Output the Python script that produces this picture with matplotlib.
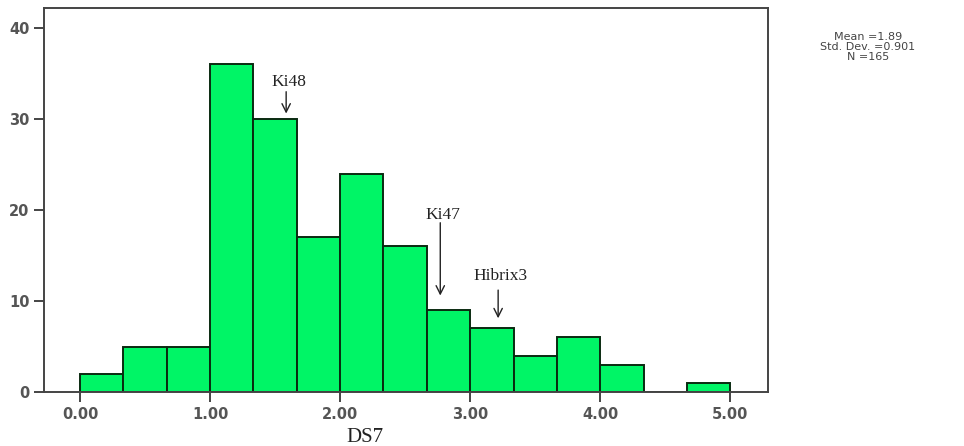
import numpy as np
import matplotlib.pyplot as plt

# DS7 histogram, bin width 1/3 from 0 to 5
bin_edges = np.linspace(0, 5, 16)
counts = [2, 5, 5, 36, 30, 17, 24, 16, 9, 7, 4, 6, 3, 0, 1]
xticks = [0, 1, 2, 3, 4, 5]
xtick_labels = ['0.00', '1.00', '2.00', '3.00', '4.00', '5.00']
yticks = [0, 10, 20, 30, 40]
stats = ['Mean =1.89', 'Std. Dev. =0.901', 'N =165']

# labelled cases: (name, x, arrow tip y, arrow start y, text baseline y)
marks = [('Ki48', 1.585, 30.6, 33.0, 33.6),
         ('Ki47', 2.77, 10.6, 18.6, 19.0),
         ('Hibrix3', 3.215, 8.1, 11.2, 12.3)]

fig = plt.figure(figsize=(9.64, 4.46), dpi=100)
ax = fig.add_axes([44/964, 54/446, 724/964, 384/446])

ax.bar(bin_edges[:-1], counts, width=np.diff(bin_edges), align='edge',
       color='#00f566', edgecolor='#0a2a10', linewidth=1.4)

ax.set_xlim(-0.277, 5.29)
ax.set_ylim(0, 42.2)
ax.set_xticks(xticks)
ax.set_xticklabels(xtick_labels)
ax.set_yticks(yticks)
for s in ax.spines.values():
    s.set_color('#444444')
    s.set_linewidth(1.4)
ax.tick_params(colors='#444444', labelsize=10.5, width=1.4, length=7, direction='out')
for lab in ax.get_xticklabels() + ax.get_yticklabels():
    lab.set_color('#555555')
    lab.set_fontweight('bold')

for name, x, ytip, ystart, ytxt in marks:
    ax.annotate('', xy=(x, ytip), xytext=(x, ystart),
                arrowprops=dict(arrowstyle='->', color='#222222', lw=1.0,
                                mutation_scale=15, shrinkA=0, shrinkB=0))
    ax.text(x + 0.02, ytxt, name, ha='center', va='baseline', family='Liberation Serif',
            fontsize=12.5, color='#222222')

fig.text(365/964, 1 - 437/446, 'DS7', ha='center', va='center',
         family='Liberation Serif', fontsize=15, color='#222222')

for i, line in enumerate(stats):
    fig.text(868/964, 1 - (36.5 + 10.5*i)/446, line, ha='center', va='center',
             fontsize=8, color='#444444')

fig.savefig('out.png', dpi=100)
